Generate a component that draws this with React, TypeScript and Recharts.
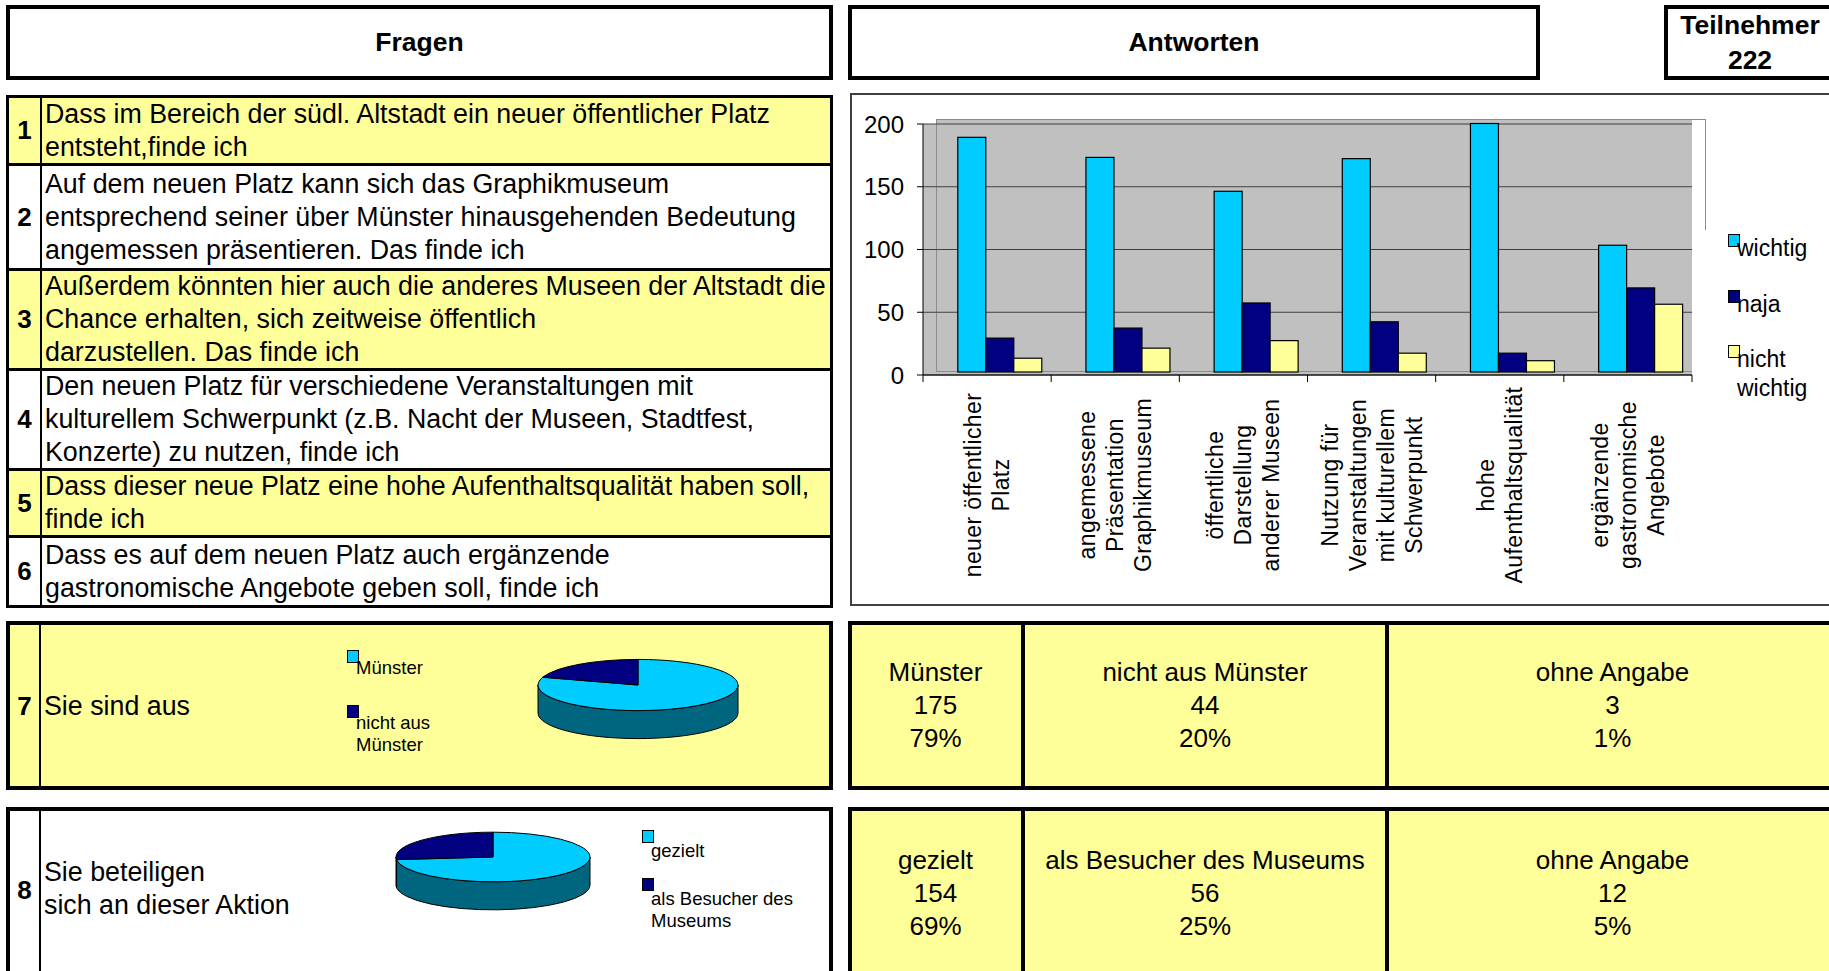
import React from 'react';
import { BarChart, Bar, XAxis, YAxis, CartesianGrid, PieChart, Pie } from 'recharts';

const FONT = "'Liberation Sans', Arial, Helvetica, sans-serif";
const YELLOW = '#FFFF99';

// header
const participants = 222;

// questions 1-6, one entry per printed line
const questionLines: string[][] = [
  ['Dass im Bereich der südl. Altstadt ein neuer öffentlicher Platz', 'entsteht,finde ich'],
  ['Auf dem neuen Platz kann sich das Graphikmuseum', 'entsprechend seiner über Münster hinausgehenden Bedeutung', 'angemessen präsentieren. Das finde ich'],
  ['Außerdem könnten hier auch die anderes Museen der Altstadt die', 'Chance erhalten, sich zeitweise öffentlich', 'darzustellen. Das finde ich'],
  ['Den neuen Platz für verschiedene Veranstaltungen mit', 'kulturellem Schwerpunkt (z.B. Nacht der Museen, Stadtfest,', 'Konzerte) zu nutzen, finde ich'],
  ['Dass dieser neue Platz eine hohe Aufenthaltsqualität haben soll,', 'finde ich'],
  ['Dass es auf dem neuen Platz auch ergänzende', 'gastronomische Angebote geben soll, finde ich'],
];

// bar chart
const categoryLines: string[][] = [
  ['neuer öffentlicher', 'Platz'],
  ['angemessene', 'Präsentation', 'Graphikmuseum'],
  ['öffentliche', 'Darstellung', 'anderer Museen'],
  ['Nutzung für', 'Veranstaltungen', 'mit kulturellem', 'Schwerpunkt'],
  ['hohe', 'Aufenthaltsqualität'],
  ['ergänzende', 'gastronomische', 'Angebote'],
];
const seriesNames = ['wichtig', 'naja', 'nicht wichtig'];
const seriesColors = ['#00CCFF', '#000080', '#FFFF99'];
const wichtig = [187, 171, 144, 170, 198, 101];
const naja = [27, 35, 55, 40, 15, 67];
const nichtWichtig = [11, 19, 25, 15, 9, 54];
const yTicks = [0, 50, 100, 150, 200];

// questions 7 and 8
const originLabels = ['Münster', 'nicht aus Münster', 'ohne Angabe'];
const originCounts = [175, 44, 3];
const originPercents = ['79%', '20%', '1%'];
const visitLabels = ['gezielt', 'als Besucher des Museums', 'ohne Angabe'];
const visitCounts = [154, 56, 12];
const visitPercents = ['69%', '25%', '5%'];
const pieColors = ['#00CCFF', '#000080'];
const pieSideColors = ['#006680', '#000040'];

const chartData = categoryLines.map((lines, i) => ({
  name: lines.join(' '),
  wichtig: wichtig[i],
  naja: naja[i],
  nichtWichtig: nichtWichtig[i],
}));
const originPie = originLabels.slice(0, 2).map((name, i) => ({ name, value: originCounts[i] }));
const visitPie = visitLabels.slice(0, 2).map((name, i) => ({ name, value: visitCounts[i] }));

const CHART_W = 980;
const CHART_H = 513;
const MARGIN = { top: 31, right: 138, left: 0, bottom: 0 };
const Y_AXIS_W = 73;
const X_AXIS_H = 231;
const PLOT_W = CHART_W - MARGIN.left - MARGIN.right - Y_AXIS_W;
const BAND = PLOT_W / categoryLines.length;
// the plot wall sits a little behind the axes, bars are drawn on it
const SHIFT_X = 13;
const SHIFT_Y = -3;

const abs = (left: number, top: number, width: number, height: number): React.CSSProperties => ({
  position: 'absolute', left, top, width, height, boxSizing: 'border-box',
});

const ShiftedBar = (props: any) => {
  const { x, y, width, height, fill } = props;
  if (!height) return null;
  return <rect x={x + SHIFT_X} y={y + SHIFT_Y} width={width} height={height} fill={fill} stroke="#000" strokeWidth={1.2} />;
};

const CategoryTick = (props: any) => {
  const { x, y, index } = props;
  const lines = categoryLines[index] ?? [];
  const mid = y + 110;
  const n = lines.length;
  return (
    <g>
      <line x1={x - BAND / 2} y1={y} x2={x - BAND / 2} y2={y + 7} stroke="#000" />
      {index === categoryLines.length - 1 && (
        <line x1={x + BAND / 2} y1={y} x2={x + BAND / 2} y2={y + 7} stroke="#000" />
      )}
      <text transform={`rotate(-90 ${x} ${mid})`} textAnchor="middle" fontSize={23} fontFamily={FONT} fill="#000" letterSpacing={0.4}>
        {lines.map((l, i) => (
          <tspan key={i} x={x} y={mid + (i - (n - 1) / 2) * 28 + 8}>{l}</tspan>
        ))}
      </text>
    </g>
  );
};

const TILT = 0.256;
const DEPTH = 28;
const RAD = Math.PI / 180;

// draws one slice of the tilted pie from the angles recharts computed
const slice3D = (props: any) => {
  const { cx, cy, outerRadius, startAngle, endAngle, index } = props;
  const rx = outerRadius;
  const ry = outerRadius * TILT;
  const pt = (a: number, dy = 0) => `${cx + rx * Math.cos(a * RAD)},${cy + dy - ry * Math.sin(a * RAD)}`;
  const hi = Math.max(startAngle, endAngle);
  const lo = Math.min(startAngle, endAngle);
  const sides: string[] = [];
  for (let k = -2; k <= 1; k++) {
    const a = Math.max(lo, -180 + 360 * k);
    const b = Math.min(hi, 360 * k);
    if (b - a > 0.01) {
      sides.push(`M${pt(b)} A${rx},${ry} 0 0 1 ${pt(a)} L${pt(a, DEPTH)} A${rx},${ry} 0 0 0 ${pt(b, DEPTH)} Z`);
    }
  }
  const large = hi - lo > 180 ? 1 : 0;
  const top = `M${cx},${cy} L${pt(hi)} A${rx},${ry} 0 ${large} 1 ${pt(lo)} Z`;
  return (
    <g key={`slice-${index}`}>
      {sides.map((d, i) => (
        <path key={i} d={d} fill={pieSideColors[index % 2]} stroke="#000" strokeWidth={1} />
      ))}
      <path d={top} fill={pieColors[index % 2]} stroke="#000" strokeWidth={1} />
    </g>
  );
};

const LegendItem = ({ left, top, color, label, fontSize, lineHeight, textTop, width }: any) => (
  <div style={{ position: 'absolute', left, top, width }}>
    <div style={{ position: 'absolute', left: 0, top: 0, width: 12, height: 13, background: color, border: '1.5px solid #000', boxSizing: 'border-box' }} />
    <div style={{ position: 'absolute', left: 9, top: textTop, width, fontSize, lineHeight: `${lineHeight}px`, color: '#000' }}>{label}</div>
  </div>
);

const QuestionRow = ({ num, lines, top, height, fill }: any) => (
  <div style={{ ...abs(6, top, 827, height), border: '3px solid #000', background: fill, display: 'flex' }}>
    <div style={{ width: 31, borderRight: '2px solid #000', display: 'flex', alignItems: 'center', justifyContent: 'center', fontWeight: 'bold', fontSize: 26 }}>{num}</div>
    <div style={{ paddingLeft: 3, display: 'flex', flexDirection: 'column', justifyContent: 'center', fontSize: 26.8, lineHeight: '33px', whiteSpace: 'nowrap' }}>
      {lines.map((l: string, i: number) => <div key={i}>{l}</div>)}
    </div>
  </div>
);

const AnswerRow = ({ top, height, labels, counts, percents }: any) => {
  const cols = [[848, 1023], [1023, 1387], [1387, 1838]];
  return (
    <>
      <div style={{ ...abs(848, top, 992, height), border: '4px solid #000', background: YELLOW }} />
      <div style={{ ...abs(1021, top, 4, height), background: '#000' }} />
      <div style={{ ...abs(1385, top, 4, height), background: '#000' }} />
      {cols.map(([a, b], i) => (
        <div key={i} style={{ ...abs(a, top + height / 2 - 50, b - a, 100), textAlign: 'center', fontSize: 26, lineHeight: '33px' }}>
          <div>{labels[i]}</div>
          <div>{counts[i]}</div>
          <div>{percents[i]}</div>
        </div>
      ))}
    </>
  );
};

const rowTops = [95, 163, 268, 368, 468, 535, 605];
const WALL = '#8c8c8c';

export default function App() {
  return (
    <div style={{ position: 'absolute', left: 0, top: 0, width: 1829, height: 971, overflow: 'hidden', background: '#fff', fontFamily: FONT, color: '#000' }}>
      {/* headers */}
      <div style={{ ...abs(6, 5, 827, 75), border: '4px solid #000', display: 'flex', alignItems: 'center', justifyContent: 'center', fontWeight: 'bold', fontSize: 26.5 }}>Fragen</div>
      <div style={{ ...abs(848, 5, 692, 75), border: '4px solid #000', display: 'flex', alignItems: 'center', justifyContent: 'center', fontWeight: 'bold', fontSize: 26.5 }}>Antworten</div>
      <div style={{ ...abs(1664, 5, 172, 75), border: '4px solid #000', display: 'flex', flexDirection: 'column', alignItems: 'center', justifyContent: 'center', fontWeight: 'bold', fontSize: 26.5, lineHeight: '35px' }}>
        <div>Teilnehmer</div>
        <div>{participants}</div>
      </div>

      {/* questions 1-6 */}
      {questionLines.map((lines, i) => (
        <QuestionRow key={i} num={i + 1} lines={lines} top={rowTops[i]} height={rowTops[i + 1] - rowTops[i] + 3} fill={i % 2 === 0 ? YELLOW : '#fff'} />
      ))}

      {/* bar chart box with its grey wall */}
      <div style={{ ...abs(850, 93, 990, 513), border: '2px solid #404040' }} />
      <div style={{ ...abs(923, 124, 769, 251), background: '#C0C0C0' }} />
      <div style={{ ...abs(936, 119, 756, 6), background: '#C0C0C0' }} />
      <div style={{ ...abs(936, 119, 770, 1), background: WALL }} />
      <div style={{ ...abs(936, 119, 1, 253), background: WALL }} />
      <div style={{ ...abs(936, 371, 756, 1), background: WALL }} />
      <div style={{ ...abs(1705, 119, 1, 111), background: WALL }} />
      <div style={{ position: 'absolute', left: 850, top: 93 }}>
        <BarChart width={CHART_W} height={CHART_H} data={chartData} margin={MARGIN} barCategoryGap="17%" barGap={0}>
          <CartesianGrid vertical={false} stroke="#404040" fill="none" />
          <XAxis dataKey="name" height={X_AXIS_H} interval={0} tickLine={false} tickSize={0} tickMargin={0} axisLine={{ stroke: '#000' }} tick={<CategoryTick />} />
          <YAxis width={Y_AXIS_W} domain={[0, 200]} ticks={yTicks} tickSize={6} tickMargin={13} axisLine={{ stroke: '#000' }} tickLine={{ stroke: '#000' }} tick={{ fontSize: 24, fill: '#000', fontFamily: FONT }} />
          <Bar dataKey="wichtig" name={seriesNames[0]} fill={seriesColors[0]} shape={ShiftedBar} isAnimationActive={false} />
          <Bar dataKey="naja" name={seriesNames[1]} fill={seriesColors[1]} shape={ShiftedBar} isAnimationActive={false} />
          <Bar dataKey="nichtWichtig" name={seriesNames[2]} fill={seriesColors[2]} shape={ShiftedBar} isAnimationActive={false} />
        </BarChart>
      </div>
      {seriesNames.map((name, i) => (
        <LegendItem key={name} left={1728} top={[234, 290, 345][i]} color={seriesColors[i]} label={name} fontSize={23} lineHeight={29} textTop={0} width={90} />
      ))}

      {/* question 7 */}
      <div style={{ ...abs(6, 621, 827, 169), border: '4px solid #000', background: YELLOW }} />
      <div style={{ ...abs(39, 621, 2, 169), background: '#000' }} />
      <div style={{ ...abs(10, 690, 29, 33), textAlign: 'center', fontWeight: 'bold', fontSize: 26, lineHeight: '33px' }}>7</div>
      <div style={{ ...abs(44, 690, 300, 33), fontSize: 26.8, lineHeight: '33px' }}>Sie sind aus</div>
      {originPie.map((d, i) => (
        <LegendItem key={d.name} left={347} top={[650, 705][i]} color={pieColors[i]} label={d.name} fontSize={18.5} lineHeight={22} textTop={7} width={100} />
      ))}
      <div style={{ position: 'absolute', left: 520, top: 640 }}>
        <PieChart width={240} height={110}>
          <Pie data={originPie} dataKey="value" nameKey="name" cx={113} cy={40} outerRadius={100} startAngle={90} endAngle={-270} fill="none" stroke="none" label={slice3D} labelLine={false} isAnimationActive={false} />
        </PieChart>
      </div>
      <AnswerRow top={621} height={169} labels={originLabels} counts={originCounts} percents={originPercents} />

      {/* question 8 */}
      <div style={{ ...abs(6, 807, 827, 175), border: '4px solid #000', background: '#fff' }} />
      <div style={{ ...abs(39, 807, 2, 175), background: '#000' }} />
      <div style={{ ...abs(10, 874, 29, 33), textAlign: 'center', fontWeight: 'bold', fontSize: 26, lineHeight: '33px' }}>8</div>
      <div style={{ ...abs(44, 856, 400, 66), fontSize: 26.8, lineHeight: '33px' }}>
        <div>Sie beteiligen</div>
        <div>sich an dieser Aktion</div>
      </div>
      <div style={{ position: 'absolute', left: 380, top: 815 }}>
        <PieChart width={230} height={110}>
          <Pie data={visitPie} dataKey="value" nameKey="name" cx={108} cy={37} outerRadius={97} startAngle={90} endAngle={-270} fill="none" stroke="none" label={slice3D} labelLine={false} isAnimationActive={false} />
        </PieChart>
      </div>
      {visitPie.map((d, i) => (
        <LegendItem key={d.name} left={642} top={[830, 878][i]} color={pieColors[i]} label={d.name} fontSize={18.5} lineHeight={22} textTop={10} width={160} />
      ))}
      <AnswerRow top={807} height={173} labels={visitLabels} counts={visitCounts} percents={visitPercents} />
    </div>
  );
}
